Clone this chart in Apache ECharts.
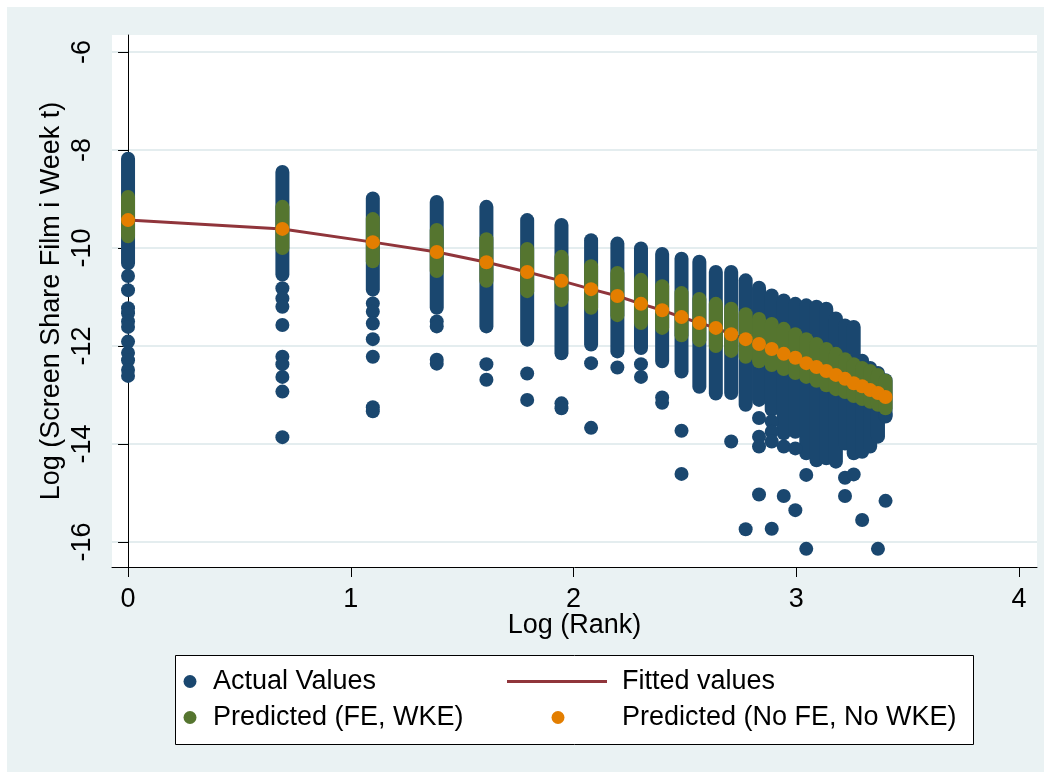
<!DOCTYPE html>
<html>
<head>
<meta charset="utf-8">
<script src="https://cdn.jsdelivr.net/npm/echarts@6/dist/echarts.min.js"></script>
<style>
html, body { margin: 0; padding: 0; background: #fff; }
#main { width: 1051px; height: 772px; }
</style>
</head>
<body>
<div id="main"></div>
<script>
// Log (Rank) for ranks 1..30
var logRank = [0, 0.693, 1.099, 1.386, 1.609, 1.792, 1.946, 2.079, 2.197, 2.303,
  2.398, 2.485, 2.565, 2.639, 2.708, 2.773, 2.833, 2.890, 2.944, 2.996,
  3.045, 3.091, 3.135, 3.178, 3.219, 3.258, 3.296, 3.332, 3.367, 3.401];

// actual values: dense band per rank (top / bottom of the column)
var actualTop = [-8.18, -8.45, -8.99, -9.06, -9.16, -9.43, -9.53, -9.84, -9.91, -10.01,
  -10.12, -10.22, -10.28, -10.49, -10.49, -10.66, -10.81, -10.97, -11.07, -11.14,
  -11.17, -11.20, -11.24, -11.44, -11.58, -11.61, -12.30, -12.45, -12.55, -12.70];
var actualBottom = [-10.31, -10.54, -10.85, -11.22, -11.60, -11.87, -12.15, -11.97, -12.11, -12.04,
  -12.31, -12.52, -12.83, -12.97, -12.96, -13.20, -13.10, -13.30, -13.78, -13.75,
  -14.19, -14.33, -14.29, -14.36, -13.99, -14.19, -14.16, -14.05, -13.85, -13.44];
// actual values outside the bands: [rank, value]
var actualOther = [
  [1, -10.57], [1, -10.86], [1, -11.23], [1, -11.33], [1, -11.50], [1, -11.61],
  [1, -11.91], [1, -12.14], [1, -12.29], [1, -12.49], [1, -12.61],
  [2, -10.82], [2, -11.03], [2, -11.20], [2, -11.57], [2, -12.22], [2, -12.37],
  [2, -12.63], [2, -12.93], [2, -13.86],
  [3, -11.13], [3, -11.30], [3, -11.54], [3, -11.86], [3, -12.22], [3, -13.25], [3, -13.33],
  [4, -11.50], [4, -11.60], [4, -12.28], [4, -12.36],
  [5, -12.37], [5, -12.69], [6, -12.56], [6, -13.10], [7, -13.17], [7, -13.27],
  [8, -12.35], [8, -13.67], [9, -12.44], [10, -12.37], [10, -12.63],
  [11, -13.05], [11, -13.16], [12, -13.73], [12, -14.61], [15, -13.95], [16, -15.74],
  [17, -13.47], [17, -13.85], [17, -14.05], [17, -15.03],
  [18, -13.54], [18, -13.75], [18, -13.95], [18, -15.73],
  [19, -14.05], [19, -15.06], [20, -14.09], [20, -15.35], [21, -14.63], [21, -16.14],
  [25, -14.69], [25, -15.06], [26, -14.62], [27, -15.55], [29, -16.14],
  [30, -13.41], [30, -15.16]
];

// predicted (FE, WKE): band per rank
var predTop = [-8.96, -9.16, -9.41, -9.63, -9.82, -10.02, -10.18, -10.37, -10.51, -10.65,
  -10.78, -10.92, -11.04, -11.14, -11.24, -11.35, -11.45, -11.55, -11.65, -11.76,
  -11.86, -11.96, -12.06, -12.16, -12.27, -12.37, -12.45, -12.51, -12.59, -12.71];
var predBottom = [-9.76, -10.00, -10.27, -10.47, -10.67, -10.88, -11.06, -11.22, -11.37, -11.53,
  -11.63, -11.78, -11.88, -12.00, -12.10, -12.22, -12.31, -12.39, -12.47, -12.55,
  -12.63, -12.71, -12.80, -12.88, -12.94, -13.02, -13.08, -13.14, -13.20, -13.27];

// predicted (No FE, No WKE)
var predNoFE = [-9.43, -9.61, -9.88, -10.08, -10.29, -10.49, -10.67, -10.84, -10.98, -11.14,
  -11.27, -11.41, -11.53, -11.63, -11.76, -11.86, -11.96, -12.06, -12.16, -12.24,
  -12.35, -12.43, -12.51, -12.59, -12.67, -12.76, -12.82, -12.90, -12.96, -13.04];

// fitted values
var fittedVals = [-9.43, -9.61, -9.88, -10.08, -10.29, -10.49, -10.67, -10.84, -10.98, -11.14,
  -11.27, -11.41, -11.53, -11.63, -11.76, -11.86, -11.96, -12.06, -12.16, -12.24,
  -12.35, -12.43, -12.51, -12.59, -12.67, -12.76, -12.82, -12.90, -12.96, -13.04];

var xTicks = [0, 1, 2, 3, 4];
var yTicks = [-16, -14, -12, -10, -8, -6];

var navy = '#1a476f', maroon = '#90353b', green = '#55752f', orange = '#e37e00';
var font = 'Liberation Sans, Arial, sans-serif';
var fs = 27;
var dot = 14;

function bandData(top, bottom) {
  return logRank.map(function (x, i) { return [x, top[i], bottom[i]]; });
}

// draws a column of overlapping dots as one rounded bar
function renderBand(params, api) {
  var a = api.coord([api.value(0), api.value(1)]);
  var b = api.coord([api.value(0), api.value(2)]);
  var r = dot / 2;
  return {
    type: 'rect',
    shape: { x: a[0] - r, y: a[1] - r, width: 2 * r, height: b[1] - a[1] + 2 * r, r: r },
    style: { fill: api.visual('color') }
  };
}

var chart = echarts.init(document.getElementById('main'));

function legendItem(name, left, top, w, h, icon, pad) {
  var lg = {
    data: [{ name: name, icon: icon }],
    left: left, top: top,
    padding: 0,
    itemWidth: w, itemHeight: h,
    selectedMode: false,
    textStyle: { fontSize: fs, fontFamily: font, color: '#000' }
  };
  if (pad) lg.textStyle.padding = pad;
  return lg;
}

var option = {
  backgroundColor: '#fff',
  animation: false,
  graphic: [
    { type: 'rect', z: -10, silent: true, shape: { x: 7, y: 7, width: 1037, height: 765 }, style: { fill: '#eaf2f3' } },
    { type: 'rect', z: 1, silent: true, shape: { x: 175.5, y: 655.5, width: 798, height: 89 }, style: { fill: '#fff', stroke: '#000', lineWidth: 1 } }
  ],
  legend: [
    legendItem('Actual Values', 183.5, 668, 36, 13, 'circle'),
    legendItem('Predicted (FE, WKE)', 183.5, 704, 36, 13, 'circle'),
    legendItem('Fitted values', 507, 668, 100, 3, 'rect', [0, 0, 0, 10]),
    legendItem('Predicted (No FE, No WKE)', 551.5, 704, 118, 13, 'circle')
  ],
  grid: {
    left: 112, top: 35, width: 925, height: 532,
    show: true, backgroundColor: '#fff', borderWidth: 0,
    outerBoundsMode: 'none'
  },
  xAxis: {
    type: 'value', min: -0.072, max: 4.081,
    name: 'Log (Rank)', nameLocation: 'middle', nameGap: 45, nameMoveOverlap: false,
    nameTextStyle: { fontSize: fs, fontFamily: font, color: '#000' },
    axisLine: { lineStyle: { color: '#000', width: 1 } },
    axisTick: { customValues: xTicks, length: 10, lineStyle: { color: '#000' } },
    axisLabel: { customValues: xTicks, margin: 19, fontSize: fs, fontFamily: font, color: '#000' },
    splitLine: { show: false }
  },
  yAxis: {
    type: 'value', min: -16.51, max: -5.653,
    name: 'Log (Screen Share Film i Week t)', nameLocation: 'middle', nameGap: 47, nameMoveOverlap: false,
    nameTextStyle: { fontSize: fs, fontFamily: font, color: '#000' },
    axisLine: { show: true, lineStyle: { color: '#000', width: 1 } },
    axisTick: { show: true, customValues: yTicks, length: 10, lineStyle: { color: '#000' } },
    axisLabel: { customValues: yTicks, rotate: 90, margin: 16, fontSize: fs, fontFamily: font, color: '#000' },
    splitLine: { show: true, lineStyle: { color: '#e4edef', width: 2 } }
  },
  series: [
    {
      name: 'Actual Values', type: 'custom', z: 2,
      itemStyle: { color: navy },
      renderItem: renderBand,
      encode: { x: 0, y: [1, 2] },
      data: bandData(actualTop, actualBottom)
    },
    {
      name: 'Actual Values', type: 'scatter', z: 2,
      symbol: 'circle', symbolSize: dot,
      itemStyle: { color: navy, opacity: 1 },
      data: actualOther.map(function (p) { return [logRank[p[0] - 1], p[1]]; })
    },
    {
      name: 'Fitted values', type: 'line', z: 3,
      symbol: 'none',
      lineStyle: { color: maroon, width: 3 },
      itemStyle: { color: maroon },
      data: logRank.map(function (x, i) { return [x, fittedVals[i]]; })
    },
    {
      name: 'Predicted (FE, WKE)', type: 'custom', z: 4,
      itemStyle: { color: green },
      renderItem: renderBand,
      encode: { x: 0, y: [1, 2] },
      data: bandData(predTop, predBottom)
    },
    {
      name: 'Predicted (No FE, No WKE)', type: 'scatter', z: 5,
      symbol: 'circle', symbolSize: dot,
      itemStyle: { color: orange, opacity: 1 },
      data: logRank.map(function (x, i) { return [x, predNoFE[i]]; })
    }
  ]
};

chart.setOption(option);
</script>
</body>
</html>
